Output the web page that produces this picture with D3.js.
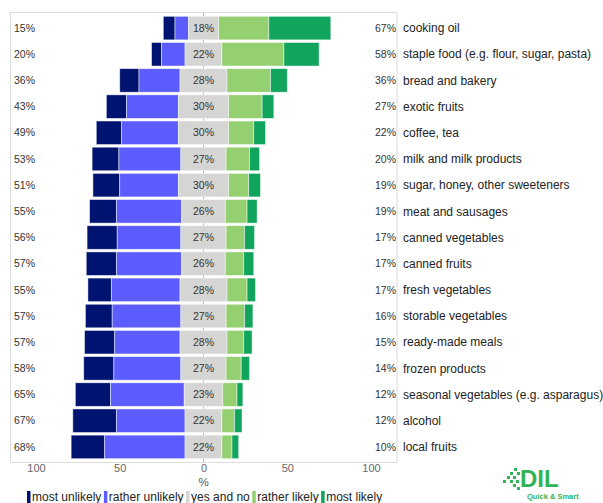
<!DOCTYPE html>
<html>
<head>
<meta charset="utf-8">
<script src="https://cdn.jsdelivr.net/npm/d3@7"></script>
<style>
  html, body { margin: 0; padding: 0; background: #fff; }
  svg { display: block; font-family: "Liberation Sans", Arial, sans-serif; }
</style>
</head>
<body>
<svg id="chart" width="603" height="503"></svg>
<script>
// Purchase intentions by product group (diverging Likert bars, neutral centred on 0)
const categories = [
  "cooking oil",
  "staple food (e.g. flour, sugar, pasta)",
  "bread and bakery",
  "exotic fruits",
  "coffee, tea",
  "milk and milk products",
  "sugar, honey, other sweeteners",
  "meat and sausages",
  "canned vegetables",
  "canned fruits",
  "fresh vegetables",
  "storable vegetables",
  "ready-made meals",
  "frozen products",
  "seasonal vegetables (e.g. asparagus)",
  "alcohol",
  "local fruits"
];
const mostUnlikely   = [7, 6, 11.5, 12, 15, 16, 16, 16, 18, 18, 14, 16, 18, 18, 21, 26, 20];
const ratherUnlikely = [8, 14, 24.5, 31, 34, 37, 35, 39, 38, 39, 41, 41, 39, 40, 44, 41, 48];
const yesAndNo       = [18, 22, 28, 30, 30, 27, 30, 26, 27, 26, 28, 27, 28, 27, 23, 22, 22];
const ratherLikely   = [30, 37, 26, 20, 15, 14, 12, 13, 11, 11, 12, 11, 10, 9, 8.5, 7.5, 6];
const mostLikely     = [37, 21, 10, 7, 7, 6, 7, 6, 6, 6, 5, 5, 5, 5, 3.5, 4.5, 4];

const levels = ["most unlikely", "rather unlikely", "yes and no", "rather likely", "most likely"];
const levelColors = ["#001370", "#5c5cff", "#d5d5d3", "#94cf70", "#10a45c"];
const axisTicks = [-100, -50, 0, 50, 100];

const svg = d3.select("#chart");

const x = d3.scaleLinear().domain([-115.5, 115.5]).range([10, 397]);
const y = d3.scaleBand().domain(categories).range([15, 460]).paddingInner(0.1).paddingOuter(0.05);
const color = d3.scaleOrdinal().domain(levels).range(levelColors);

const rows = categories.map((c, i) => ({
  cat: c,
  vals: [mostUnlikely[i], ratherUnlikely[i], yesAndNo[i], ratherLikely[i], mostLikely[i]]
}));

// panel frame
svg.append("rect")
  .attr("x", 10.5).attr("y", 12.5)
  .attr("width", 386.5).attr("height", 450)
  .attr("fill", "none").attr("stroke", "#dcdcdc").attr("stroke-width", 1);

// reference line at zero
svg.append("line")
  .attr("x1", x(0)).attr("x2", x(0))
  .attr("y1", 13).attr("y2", 462)
  .attr("stroke", "#b8b8b8").attr("stroke-width", 1);

// stacked segments: neutral split evenly around 0
const segs = [];
rows.forEach(r => {
  const [mu, ru, yn, rl, ml] = r.vals;
  const h = yn / 2;
  const bounds = [
    [-h - ru - mu, -h - ru],
    [-h - ru, -h],
    [-h, h],
    [h, h + rl],
    [h + rl, h + rl + ml]
  ];
  bounds.forEach((b, k) => segs.push({ cat: r.cat, level: levels[k], x0: b[0], x1: b[1] }));
});

svg.append("g").selectAll("rect")
  .data(segs)
  .join("rect")
  .attr("x", d => x(d.x0))
  .attr("width", d => x(d.x1) - x(d.x0))
  .attr("y", d => y(d.cat))
  .attr("height", y.bandwidth())
  .attr("fill", d => color(d.level))
  .attr("stroke", "#ffffff")
  .attr("stroke-opacity", 0.6)
  .attr("stroke-width", 0.8);

const pct = v => Math.round(v) + "%";

// percentage labels
const labels = svg.append("g").attr("font-size", "10.5px").attr("fill", "#333");
labels.selectAll(".neg").data(rows).join("text")
  .attr("x", 14)
  .attr("y", d => y(d.cat) + y.bandwidth() / 2)
  .attr("dy", "0.35em")
  .text(d => pct(d.vals[0] + d.vals[1]));
labels.selectAll(".neu").data(rows).join("text")
  .attr("x", x(0))
  .attr("y", d => y(d.cat) + y.bandwidth() / 2)
  .attr("dy", "0.35em")
  .attr("text-anchor", "middle")
  .text(d => pct(d.vals[2]));
labels.selectAll(".pos").data(rows).join("text")
  .attr("x", 396)
  .attr("y", d => y(d.cat) + y.bandwidth() / 2)
  .attr("dy", "0.35em")
  .attr("text-anchor", "end")
  .text(d => pct(d.vals[3] + d.vals[4]));

// category names to the right of the panel
svg.append("g").selectAll("text").data(categories).join("text")
  .attr("x", 403)
  .attr("y", d => y(d) + y.bandwidth() / 2)
  .attr("dy", "0.35em")
  .attr("font-size", "12px")
  .attr("fill", "#222")
  .text(d => d);

// bottom axis
const axis = svg.append("g")
  .attr("transform", "translate(0,463)")
  .call(d3.axisBottom(x).tickValues(axisTicks).tickSize(0).tickPadding(1.5).tickFormat(d => Math.abs(d)));
axis.select(".domain").remove();
axis.selectAll("text").attr("font-size", "11px").attr("fill", "#666").attr("font-family", "Liberation Sans, Arial, sans-serif");

svg.append("text")
  .attr("x", x(0)).attr("y", 481.5).attr("dy", "0.35em")
  .attr("text-anchor", "middle")
  .attr("font-size", "11.5px").attr("fill", "#555")
  .text("%");

// legend
const legend = svg.append("g").attr("transform", "translate(27,497)");
let lx = 0;
levels.forEach((lv, i) => {
  legend.append("rect")
    .attr("x", lx).attr("y", -6)
    .attr("width", 3.5).attr("height", 12)
    .attr("fill", levelColors[i]);
  const t = legend.append("text")
    .attr("x", lx + 5).attr("y", 0).attr("dy", "0.35em")
    .attr("font-size", "12px").attr("fill", "#222")
    .text(lv);
  lx += 5 + t.node().getComputedTextLength() + 2.5;
});

// DIL logo
const logo = svg.append("g").attr("fill", "#2fb457");
const dots = [[514, 468], [510, 472], [517, 472], [507, 476], [513, 476], [503, 480], [510, 480], [516, 480], [513, 484], [517, 487]];
logo.selectAll("rect").data(dots).join("rect")
  .attr("x", d => d[0]).attr("y", d => d[1])
  .attr("width", 3).attr("height", 3);
logo.append("text")
  .attr("x", 520).attr("y", 487)
  .attr("font-size", "24px").attr("font-weight", "bold")
  .attr("font-family", "Liberation Sans, Arial, sans-serif")
  .text("DIL");
logo.append("text")
  .attr("x", 527).attr("y", 498.5)
  .attr("font-size", "7.5px").attr("font-weight", "bold")
  .attr("font-family", "Liberation Sans, Arial, sans-serif")
  .text("Quick & Smart");
</script>
</body>
</html>
